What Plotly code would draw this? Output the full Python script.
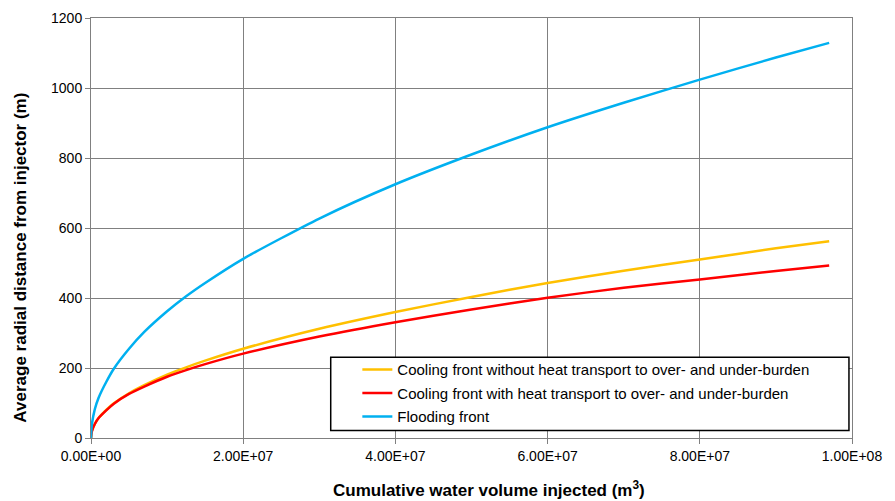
import plotly.graph_objects as go

# Cumulative water volume injected (m3)
volume = [0, 0.01e7, 0.05e7, 0.1e7, 0.2e7, 0.3e7, 0.5e7, 0.7e7, 1e7, 1.25e7, 1.5e7, 2e7,
          3e7, 4e7, 5e7, 6e7, 7e7, 8e7, 9e7, 9.7e7]
# Average radial distance from injector (m)
cooling_without = [0, 18, 40, 57, 80, 99, 128, 151, 181, 202, 221, 255,
                   312, 360, 403, 443, 478, 510, 542, 562]
cooling_with = [0, 18, 40, 57, 79, 98, 126, 147, 175, 194, 211, 241,
                290, 331, 367, 401, 429, 453, 477, 493]
flooding = [0, 36, 82, 115, 160, 198, 255, 303, 362, 405, 443, 512,
            627, 725, 810, 888, 958, 1024, 1087, 1129]

series_names = [
    "Cooling front without heat transport to over- and under-burden",
    "Cooling front with heat transport to over- and under-burden",
    "Flooding front",
]
series_colors = ["#FFC000", "#FF0000", "#00B0F0"]

x_tick_vals = [0, 2e7, 4e7, 6e7, 8e7, 1e8]
x_tick_labels = ["0.00E+00", "2.00E+07", "4.00E+07", "6.00E+07", "8.00E+07", "1.00E+08"]
y_tick_vals = [0, 200, 400, 600, 800, 1000, 1200]

font_family = "Liberation Sans, Arial, sans-serif"
grid_color = "#808080"

fig = go.Figure()
for name, ys, col in zip(series_names, [cooling_without, cooling_with, flooding], series_colors):
    fig.add_trace(go.Scatter(
        x=volume, y=ys, mode="lines", name=name, legendgroup=name,
        line=dict(color=col, width=2.5, shape="spline", smoothing=0.6),
    ))

axis_common = dict(
    showgrid=True, gridcolor=grid_color, gridwidth=1,
    showline=True, linecolor=grid_color, linewidth=1, mirror=True,
    ticks="outside", ticklen=5, tickcolor=grid_color,
    tickfont=dict(family=font_family, size=14, color="#000000"),
    zeroline=False, automargin=False,
)

fig.update_xaxes(range=[0, 1e8], tickvals=x_tick_vals, ticktext=x_tick_labels, **axis_common)
fig.update_yaxes(range=[0, 1200], tickvals=y_tick_vals, **axis_common)

# legend frame
fig.add_shape(type="rect", xref="paper", yref="paper",
              x0=0.315, x1=0.996, y0=0.018, y1=0.192,
              line=dict(color="#000000", width=1.5), fillcolor="white", layer="above")

fig.add_annotation(text="<b>Average radial distance from injector (m)</b>",
                   xref="paper", yref="paper", x=-0.093, y=0.43, textangle=-90,
                   showarrow=False, xanchor="center", yanchor="middle",
                   font=dict(family=font_family, size=17, color="#000000"))
fig.add_annotation(text="<b>Cumulative water volume injected (m<sup>3</sup>)</b>",
                   xref="paper", yref="paper", x=0.523, y=-0.122,
                   showarrow=False, xanchor="center", yanchor="middle",
                   font=dict(family=font_family, size=17, color="#000000"))

# the page body has an 8px margin, so the figure is 8px smaller and margins shifted
fig.update_layout(
    width=887, height=493,
    margin=dict(l=83, r=43, t=10, b=63, autoexpand=False),
    paper_bgcolor="white", plot_bgcolor="white",
    showlegend=True,
    legend=dict(x=0.35, y=0.202, xanchor="left", yanchor="top",
                bgcolor="rgba(0,0,0,0)", borderwidth=0,
                font=dict(family=font_family, size=15, color="#000000"),
                tracegroupgap=1, itemwidth=30),
)

fig.write_html("out.html")
